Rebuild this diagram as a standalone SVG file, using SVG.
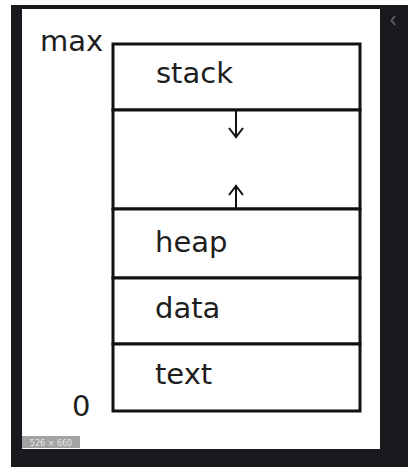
<svg xmlns="http://www.w3.org/2000/svg" width="408" height="467" viewBox="0 0 408 467">
  <style>
    .seg { fill: #ffffff; stroke: #111111; stroke-width: 3; }
    .lbl { font-family: "DejaVu Sans", "Liberation Sans", sans-serif; font-size: 29px; fill: #1e1e1e; }
    .grow { stroke: #111111; stroke-width: 2; fill: none; }
  </style>
  <!-- frame -->
  <rect x="0" y="0" width="408" height="467" fill="#ffffff"/>
  <rect x="11" y="5" width="397" height="462" fill="#18191c"/>
  <rect x="22" y="9" width="358" height="440" fill="#ffffff"/>
  <path d="M395 16 L391.5 20.5 L395 25" stroke="#5a5b60" stroke-width="2" fill="none"/>

  <!-- address labels -->
  <text class="lbl" x="40" y="51">max</text>
  <text class="lbl" x="72" y="416">0</text>

  <!-- memory segments -->
  <g id="stack">
    <rect class="seg" x="113" y="44" width="247" height="66"/>
    <text class="lbl" x="156" y="83">stack</text>
  </g>
  <g id="free">
    <rect class="seg" x="113" y="110" width="247" height="99"/>
  </g>
  <g id="heap">
    <rect class="seg" x="113" y="209" width="247" height="69"/>
    <text class="lbl" x="155" y="252">heap</text>
  </g>
  <g id="data">
    <rect class="seg" x="113" y="278" width="247" height="66"/>
    <text class="lbl" x="155" y="318">data</text>
  </g>
  <g id="text">
    <rect class="seg" x="113" y="344" width="247" height="67"/>
    <text class="lbl" x="155" y="384">text</text>
  </g>

  <!-- growth directions -->
  <g id="connectors">
    <path class="grow" d="M236 110 V137 M229 128 L236 137 L243 128"/>
    <path class="grow" d="M236 209 V186 M229 195 L236 186 L243 195"/>
  </g>

  <!-- size badge -->
  <rect x="22" y="436" width="58" height="12" fill="#a3a3a3"/>
  <text x="51" y="445.5" text-anchor="middle" font-family="DejaVu Sans, sans-serif" font-size="8" fill="#e8e8e8">526 × 660</text>
</svg>
